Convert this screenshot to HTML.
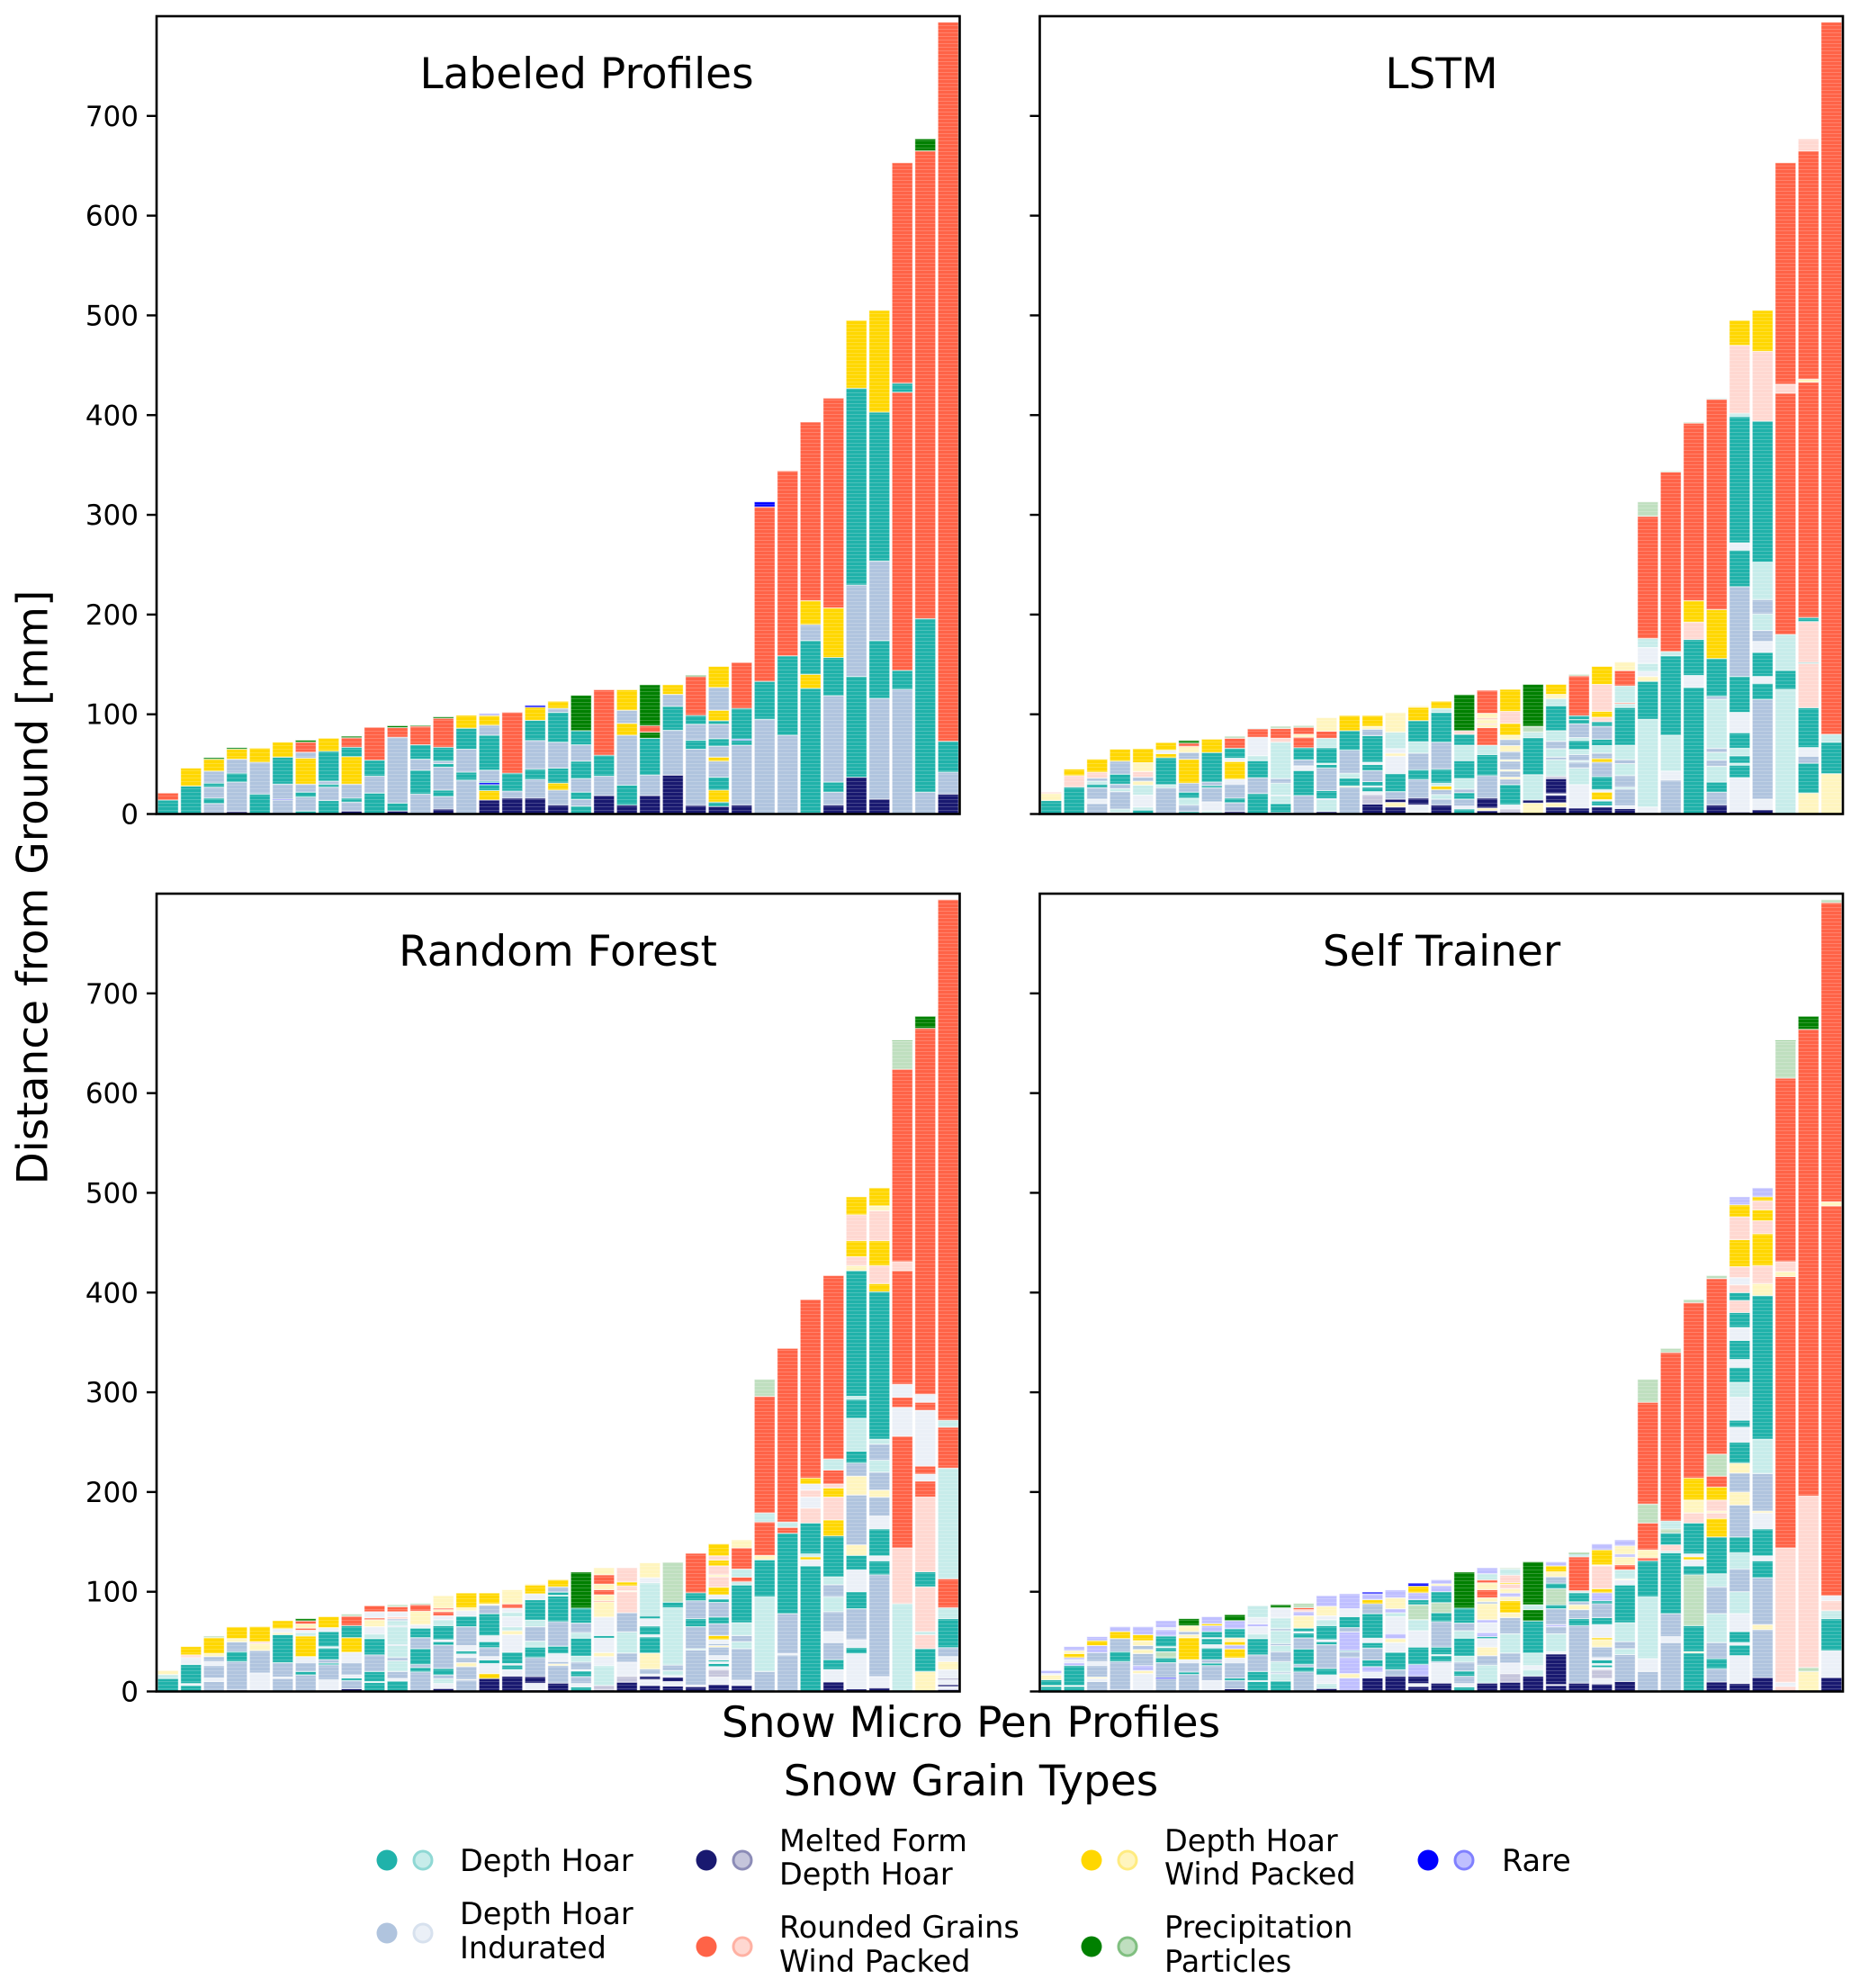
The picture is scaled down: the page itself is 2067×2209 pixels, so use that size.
<!DOCTYPE html>
<html lang="en">
<head>
<meta charset="utf-8">
<title>Snow Grain Types by Snow Micro Pen Profile</title>
<style>
html,body{margin:0;padding:0;background:#fff}
svg{display:block}
text{font-family:"DejaVu Sans","Liberation Sans",sans-serif;fill:#000}
</style>
</head>
<body>
<svg id="chart" xmlns="http://www.w3.org/2000/svg" width="2067" height="2209" viewBox="0 0 2067 2209">
<defs>
<pattern id="stripes" patternUnits="userSpaceOnUse" width="8" height="4"><rect x="0" y="0" width="8" height="1" fill="#fff" fill-opacity="0.2"/></pattern>
<clipPath id="clip-0"><rect x="174" y="18" width="892.5" height="886.5"/></clipPath>
<clipPath id="clip-1"><rect x="1155.5" y="18" width="892.5" height="886.5"/></clipPath>
<clipPath id="clip-2"><rect x="174" y="993" width="892.5" height="886.5"/></clipPath>
<clipPath id="clip-3"><rect x="1155.5" y="993" width="892.5" height="886.5"/></clipPath>
</defs>
<g id="panels"></g>
<text transform="translate(37 986) rotate(-90)" text-anchor="middle" dominant-baseline="central" font-size="47">Distance from Ground [mm]</text>
<text x="1079" y="1930" text-anchor="middle" font-size="47">Snow Micro Pen Profiles</text>
<text x="1079" y="1995" text-anchor="middle" font-size="47">Snow Grain Types</text>
<g font-size="33.5">
<g>
<circle cx="430" cy="2067" r="11.5" fill="#20b2aa"/><circle cx="470" cy="2067" r="10" fill="#c7ecea" stroke="#8fd8d4" stroke-width="3"/>
<text x="511" y="2079">Depth Hoar</text></g>
<g>
<circle cx="430" cy="2148" r="11.5" fill="#b0c4de"/><circle cx="470" cy="2148" r="10" fill="#ebf0f7" stroke="#d7e1ee" stroke-width="3"/>
<text x="511" y="2138">Depth Hoar</text><text x="511" y="2176">Indurated</text></g>
<g>
<circle cx="785" cy="2067" r="11.5" fill="#191970"/><circle cx="825" cy="2067" r="10" fill="#c5c5db" stroke="#8c8cb7" stroke-width="3"/>
<text x="866" y="2057">Melted Form</text><text x="866" y="2094">Depth Hoar</text></g>
<g>
<circle cx="785" cy="2163" r="11.5" fill="#ff6347"/><circle cx="825" cy="2163" r="10" fill="#ffd8d1" stroke="#ffb1a3" stroke-width="3"/>
<text x="866" y="2153">Rounded Grains</text><text x="866" y="2191">Wind Packed</text></g>
<g>
<circle cx="1213" cy="2067" r="11.5" fill="#ffd700"/><circle cx="1253" cy="2067" r="10" fill="#fff5bf" stroke="#ffeb80" stroke-width="3"/>
<text x="1294" y="2057">Depth Hoar</text><text x="1294" y="2094">Wind Packed</text></g>
<g>
<circle cx="1213" cy="2163" r="11.5" fill="#008000"/><circle cx="1253" cy="2163" r="10" fill="#bfdfbf" stroke="#80bf80" stroke-width="3"/>
<text x="1294" y="2153">Precipitation</text><text x="1294" y="2191">Particles</text></g>
<g>
<circle cx="1587" cy="2067" r="11.5" fill="#0000ff"/><circle cx="1627" cy="2067" r="10" fill="#bfbfff" stroke="#8080ff" stroke-width="3"/>
<text x="1669" y="2079">Rare</text></g>
</g>
</svg>
<script>
// Grain codes: upper-case = solid colour, lower-case = transparent (prediction) colour
// T depth hoar, S indurated, N melted form, C rounded/wind packed, G wind packed, V precipitation, B rare
const tickLabels = [0,100,200,300,400,500,600,700];
const panelTitles = ["Labeled Profiles","LSTM","Random Forest","Self Trainer"];

// each string lists the layers of a profile from the ground up; matching array holds layer tops [mm]
const labeledGrains = ["TC","TG","STSTSGV","NSTSGV","TSG","SBSTG","TSTSGSCV","TSTSTG","NSTSGTCV","TSTC","NTSCV","STSTCV","NSTSTSTCV","STSTG","NGTBTSTSGb","NSTC","NSTSTGB","NSGTSTSG","TSTSTSTV","NSTC","NTSGSG","NSTVCV","NSTSG","NSTSTCV","NTGTSGSTSTGSG","NSTBTC","STCB","STC","NTGTSGC","NSTSTGC","NTSTG","NSTSTG","STCTC","STCV","NSTC"];
const labeledTops = [[14,21],[28,46],[10.5,16,27,31,43,55,56.5],[2.4,32,41,55,65,66.5],[20,52,66],[14,15,30,57,72],[3,17,22,30,56,62,72,74],[13.5,27,30,33,63,76],[3,12,16,30,57.5,67,76.5,78],[21,38,54,87],[3,11,77,86.6,88.5],[20,44,55,69.5,88,89],[5,17.5,24,47,50.5,53,67,96,97.5],[34,42,65,86,99],[14,23.5,29.5,31.5,33,44,79,89,98.7,101],[16,23,41,102],[16,34.6,45,73.7,94,107,109],[9,24,31,46,72,102,106,113],[8,14.8,22,35.5,53,69.4,83.6,119],[18.6,38,59,124.6],[9,29,79,91,104,124.6],[18.6,39,76,82,88.6,129.6],[39,84,108,120,129.6],[8.7,65,74,90,99,138,139],[7.6,12,24,37,53,57,68,75.5,90,93.5,104,127,148],[9,69,74,75,106,152],[95,133,308,313],[79,158.6,344],[1,126,140,174,190,214,393],[9,22,32,118.6,157,206.7,417],[37,138,229.6,427,495],[15,116,174,253.7,403,505],[125,144,423,432,653],[22,196,665,677],[20,42,73,794]];

const lstmGrains = ["Tgc","TcG","SsSTtScG","stStSTSG","TtstgScgG","StTGsG","TStTSGSgCV","tsSTSTG","NSTSsGsTCv","TSTtsCt","NTtStStcCv","STsSTCgCv","NtSTSTtTtCg","SgTtSTG","NnsTsTSTsTSgG","NgNSTsgstg","NsNSTStTGg","NStSGtTSTtG","TsSTStTtTcV","NgNSTtCgCgCgC","NnsTSgSgSgSgSgGcG","gNtTtvV","NgNsNntStStTtgG","NstStStTtSTTCv","NsTsGsTSGStTSTcGcG","NsStStStTtCtCg","stTgststCv","SstTtCv","TsTcGCv","NSTtStStSTGCt","NsTtTtTsTSTsTtcG","NsSTsTsStStTcG","tTtCcC","gTSsTcTcTCgCc","gTtC"];
const lstmTops = [[13.5,20.5,22],[27,38.5,45],[10.5,15,26.5,30,33,36,42,55],[1.5,5,22.5,25.5,30,40,53,65],[4,7,19,29,33,37,42.5,51.5,65.5],[26.5,29.5,56.5,60.5,64,71.6],[2.4,9,16,22,31,55,61.7,67.7,71,73.7],[3,12.3,26.5,28.6,32,61.7,75],[2.4,11.4,16,30,35,52.6,56,66,76,78],[20.5,36.4,53.5,58.6,77,85.4,86],[1.5,10.5,18.4,19,31,35.5,72,76,85.7,88],[18.6,43.6,48.4,54.4,66.5,77,80,87,88.7],[2.4,14.4,15.5,23.5,46,49.6,51,66.5,76,83,96.6],[27,28,36,41,64,83.6,98.7],[10,19.5,22.5,27,28,32.5,43.6,49.6,52,78.5,85,88,98.7],[7,11.7,15,22.5,40.6,58,61,65.6,82,101.7],[1.5,9.3,16,34.6,44.5,61,72.5,93.6,107,108.6],[9,15,19.6,24.3,28,31,45,72,102,106,113],[5,8,15,21.4,25,35.5,53.5,69,80,83.6,119.7],[3.3,6,16,38.5,59.6,69,86.6,89.6,90.5,95,96,101,124],[2,5,9.3,29.5,35,37,43,44.5,53,54.5,62.6,68.6,74.6,79,91,103,125],[11,14,39.4,76.7,82,88,130],[7,11.4,19,20.5,35.5,38,54.5,57,65.6,73,83.6,108.6,115.8,120,130],[6,29.5,46,52,53.5,59.6,64.7,73.7,76.7,90.5,94.8,98.7,138.5,140],[7,8.4,13,14.4,22,24.4,37.6,52,55.6,61,68.6,75,88,92.5,97,103,130,148],[5.4,8.4,25,27,38.5,50.5,54.5,69,106.8,110.5,111.6,128.5,143.8,152.5],[7,95,133,138,143,151,167,176,298.5,313],[34,43,79,158.6,163,343,344],[127,139,175,192.5,214,392,393],[9,22,32,48,54,62,66,115,118,156,205,416,417],[2,36.6,49,51,58.5,66,81.5,102,138,228,264.6,272,398.6,402,470,495],[4.4,15,115,131,138,162,173,184,200.6,215,252.6,394,464,505],[125,144,180,422,431,653],[21,51,58,66.7,106.6,151,152,193,197,433,436,665,677],[40.5,72,80,794]];

const forestGrains = ["Ttg","TsTscG","SsSsSgGv","NSTSgG","sSgcG","SsSTgsG","STSsGtsCgCV","sSTSTsTsG","NSTsSsGTCv","TsTSTtsgCsC","TsStStStStScsCv","STSTSTsgCv","NstSTSTsTtsCgCg","SgSgSsTsSTsgG","NGsTsSTsTSgG","NsTsTsgtstsCg","NsNSTtStTsGg","NSgSsTSTtTSG","TsSTsStTtSTV","NntsgsTsgCgCgCg","NnsStScgcGc","NsNsSgTsTsTtsg","NsNstStTv","NsStSTSTC","NsnsTsTsSgSsGSTSTsGcgcGcG","NsStStTtCtCg","StTgCtCv","SsSTCtC","TsGtTcscsGC","NsTSsStStTGcGcCtC","NsTsSTsTgSgSTtTtTgcGcG","NsSTsTsSgStStTGcGcgG","tcCsCsCcCvV","gTctcTcCsCsCsCV","NsNsNsgsSTtCtCtC"];
const forestTops = [[13,17,21],[6,8,27,34,36.7,45],[10,13.5,26,30,35,38,54,55.6],[1.5,30,40,49.6,53,64.7],[18.6,41,48,50,65],[13,14.5,29,57,59,63,71],[16.5,20,29,35,55.6,59,61.5,63.5,67.7,70.7,73],[11.7,26.8,28.6,32,43.6,45,60,64,75],[2.7,11,13.5,16.5,29,39.4,54,66,75.5,77.6],[9,10,20,36.7,53,58,65,72,73.7,80,86],[10.5,13,20,30.7,34,46,47,65,66,71,72.8,75,80,85,87],[19.6,24,27,43,54,63.5,67,80.6,87,88.4],[3,8,12.6,16.5,23,46.6,50,52,66,72,76,80,82,83.5,96],[11.4,12,25,29,34,37.6,40.6,46,65,75.5,81,84,98.7],[13,18,28,31.6,35,44,50,56,78,86.6,88,98.7],[15.3,22,26.5,28,39.4,57,61,65,75,79.6,83.6,87.7,102],[1.5,8.4,15,34,44.5,50.5,65,71.6,92,98,106.8,108],[8.4,26,27.6,30,38,45.4,70,95.7,96.5,99.6,105,112],[4.5,8,15,20.5,22,29.5,35.5,53.5,59,68.6,83.6,119.7],[1.5,6,26,35,39,53.5,56,74.6,90,91,97,102,107.7,117,124],[9.3,15.3,29.5,38.5,59.6,79,100,101,106,109.8,124],[6,12,15.3,17.5,22.5,38.5,54.7,57,65.6,73,76,109,114,129],[5.4,10,14.4,16,21,26.5,84,89.6,129.6],[4.8,6.5,41.5,43,65,73,91,99,138.5],[7,14.4,22,25,28,30,31.6,36,44.5,46,48,52,56,68,74.6,89.3,92.7,97,104.7,115,117,126,131.7,136,148],[6,11.4,43,50,56,69,106.8,110,114.6,122.8,144,152],[20,95,132,136.5,170,179,296,313],[36.5,38,78,158.7,164.5,170,344],[126,132,135,138,169,184,195,202,208,214,393],[9.5,22,32,49,60,80,95,107,115,156,172,195,204,208,222,233,417],[2.6,38,44,52,83,100,122,136.5,147,197,216,229,241,274,293,296,422,427,436,452,478,496],[3.7,15,117,131,136,163,176,195,202,220,232,248,253,401,409,427,452,482,487,505],[88,144,256,285,295,308,422,431,624,652,653],[20,43,57,60,105,120,195,211,218,226,282,290,298,665,677],[2,5,7,12,13,22,30,35,44,73,84,113,224,265,272,794]];

const selfGrains = ["TgTgsb","TsTbsbGgb","SsgSsSbGb","NSTSGb","sgbSgSgGb","SBSTvTsTbsb","STSsGgSgV","sSTSTsTsTbGb","NSTSsGbGgTbV","TsTSTtsbst","TtStStStStsV","STSTSTsTgbcCv","NtsTSTsTtsgb","bgbSTbSTsb","NsbTSTsTSGbB","NSTsgbstbgb","NsNbTstvTbGB","NsSTsTSTvTbgb","TsSTStTtSTV","NtSgsTbsbgSgCgCtb","NnsStSgGgbgcGctv","NtstTVtV","NsNstSbSTvTSgGb","NSTSgSTtCtV","NsnsTsTsSgGsTSTbGcgGb","NStStTsgtCgbgb","SstTCgCvCv","SsSTtcTvtCv","TgTvTsGsTcgGCv","NSTStStTGcgcGCvCv","NsTsTstStTSgSgTsTstTsTsTcTcscGcGb","NSgSTsTsgStTgcGcGcGb","cscCgcCvV","gvcCV","NsTtcsCgCv"];
const selfTops = [[5,6,11.7,16.5,18,21],[5,6,26,29,32,34,38,41,45],[10,13,14.5,26,30,39,46,51,55],[1.5,30,40,53,60,65],[18,21,26,38,42,46,51,57,65],[12.6,14,29,33.7,40,44,45,55.6,62,64,71],[17,19.5,29,32,54,57,60,66,73],[11,26,28.6,32,43.6,47,53,54,60,66,68,75],[2.7,11,13.5,29,33.7,42.7,46.6,50,53.8,62.9,71,77],[10,11,20,36.7,53,58,65,67.7,74,86],[10.5,18,19.5,30,40,46,48,61,63,73.7,84,87],[19.6,24.7,27,42.7,53.8,58.6,60,63.5,76,80,82,84,88.4],[3,8,16.5,23,47,50,52,66,72,76,85.4,96],[13.5,18,34,40,41,59.6,64,75,83,98],[13.5,19.5,25,31.6,43.6,49,53.5,78,88,92,98,99.6],[15.3,22,39.4,49,53,58,75,79,83,94,101.7],[5,8,15.3,27,44.5,61,72,87,92,99,105.6,108.6],[8.4,28.6,30,36,37,44.5,70,79,89,100,106,108,112],[4.5,8,15.3,20.5,29.5,35.5,53.5,61,68.6,83.6,119.7],[8.4,26.5,36,44.5,53,55,59,69,72,88,90,94,102,109,112,118,124],[9.3,18,28.6,38.5,58,74,79,91,95,98.7,103,107.7,109,116.7,123,124],[15.3,22,26,38.5,70.7,82,87,130],[6,7,37.6,40,58,65,67,83,87,103,108.6,115,120,126,130],[8.4,66,73,82,87,90,99,101,135,138,139],[7.5,13,22,24,26.5,28,31.6,34,44.5,52,54,67,74,88,91,99,103,126,127,142,148],[10,37,43,50,69,106.8,112,113,122,127,134.8,137.8,146,152],[20,33,95,131,134,142,169,188,290,313],[49,55,78,139,141,147,159,163,171,340,344],[38.6,40,66,117,126,132,135,138,169,179,192,214,390,393],[9.5,22.8,33,49,78,105,118,155,173.5,179,181,192,205,216,238,414,417],[8,36,46.5,49,60,78,100,123,139,155,187,200,219,229,250,265,272,295,310,325,333,352,365,380,392,400,408,415,426,453,476,488,496],[14,62,67,114,131,136,163,179,181,218.5,253,397,409,427,459,472,483,492,496,505],[5,9,144,416,421,431,615,652,653],[20,24,196,664,677],[14,41,73,81,91,96,487,491,791,794]];

const grainColors = {T:"#20b2aa",S:"#b0c4de",N:"#191970",C:"#ff6347",G:"#ffd700",V:"#008000",B:"#0000ff",t:"#c7ecea",s:"#ebf0f7",n:"#c5c5db",c:"#ffd8d1",g:"#fff5bf",v:"#bfdfbf",b:"#bfbfff"};
const grainSlugs = {t:"depth-hoar",s:"indurated",n:"melted-form",c:"rounded-wind-packed",g:"wind-packed",v:"precipitation",b:"rare"};
const panelGrains = [labeledGrains,lstmGrains,forestGrains,selfGrains];
const panelTops = [labeledTops,lstmTops,forestTops,selfTops];

const NS = "http://www.w3.org/2000/svg";
const root = document.getElementById("panels");
const frames = [
  {left:174,right:1066.5,top:18,bottom:904.5,titleX:652,titleY:98,labels:true},
  {left:1155.5,right:2048,top:18,bottom:904.5,titleX:1602,titleY:98,labels:false},
  {left:174,right:1066.5,top:993,bottom:1879.5,titleX:620,titleY:1073,labels:true},
  {left:1155.5,right:2048,top:993,bottom:1879.5,titleX:1602,titleY:1073,labels:false}
];
const yMax = 800;
function mk(tag, attrs, parent){
  const el = document.createElementNS(NS, tag);
  for (const k in attrs) el.setAttribute(k, attrs[k]);
  parent.appendChild(el);
  return el;
}
function xScale(f, count, i){ return f.left + (i + 0.5) * (f.right - f.left) / count; }
function yScale(f, v){ return f.bottom - v / yMax * (f.bottom - f.top); }

frames.forEach(function(f, p){
  const grains = panelGrains[p];
  const tops = panelTops[p];
  const panel = mk("g", {}, root);
  
  
  const bars = mk("g", {"clip-path":"url(#clip-" + p + ")"}, panel);
  const step = (f.right - f.left) / tops.length;
  const barW = step * 0.9;
  tops.forEach(function(layerTops, i){
    const bar = mk("g", {}, bars);
    
    
    let prev = 0;
    layerTops.forEach(function(t, j){
      const code = grains[i][j];
      const y1 = yScale(f, t);
      const y0 = yScale(f, prev);
      const r = mk("rect", {x:xScale(f, tops.length, i) - barW / 2, y:y1, width:barW, height:Math.max(y0 - y1, 0.5), fill:grainColors[code], stroke:"#fff", "stroke-opacity":"0.6", "stroke-width":"1"}, bar);
      
      
      prev = t;
    });
  });
  const stripe = mk("rect", {x:f.left, y:f.top, width:f.right - f.left, height:f.bottom - f.top, fill:"url(#stripes)"}, panel);
  
  
  const axis = mk("g", {}, panel);
  
  
  tickLabels.forEach(function(v){
    const y = yScale(f, v);
    const tick = mk("line", {x1:f.left - 11, x2:f.left, y1:y, y2:y, stroke:"#000", "stroke-width":"2.4"}, axis);
    
    
    if (f.labels) {
      const lab = mk("text", {x:f.left - 20, y:y + 11, "text-anchor":"end", "font-size":"31"}, axis);
      
      
      lab.textContent = String(v);
    }
  });
  const frame = mk("rect", {x:f.left, y:f.top, width:f.right - f.left, height:f.bottom - f.top, fill:"none", stroke:"#000", "stroke-width":"2.6"}, panel);
  
  
  const title = mk("text", {x:f.titleX, y:f.titleY, "text-anchor":"middle", "font-size":"47"}, panel);
  
  
  title.textContent = panelTitles[p];
});
</script>
</body>
</html>
